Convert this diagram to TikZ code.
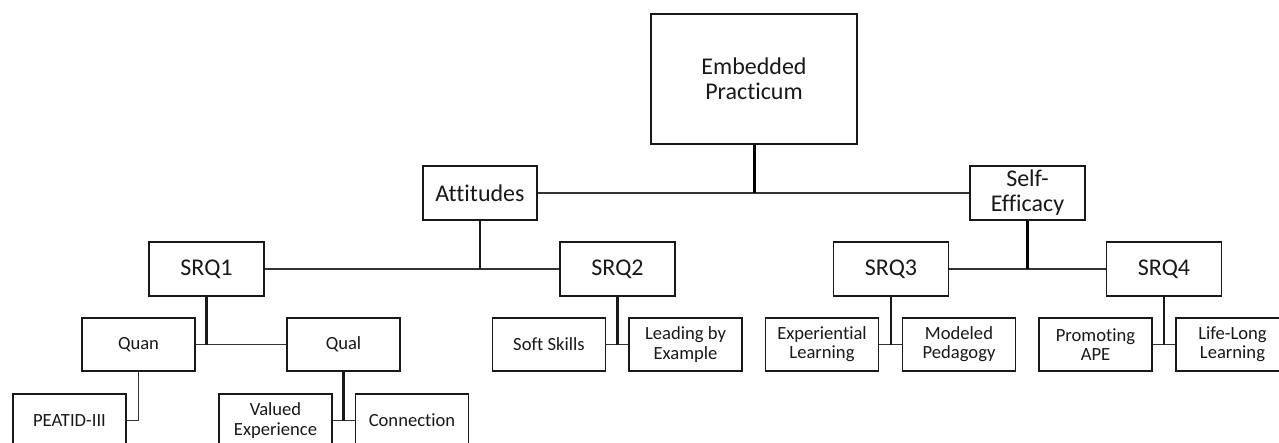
\documentclass[tikz,border=0pt]{standalone}
\usepackage{fontspec}
\setmainfont{Carlito}[Ligatures=NoCommon]
\begin{document}
\begin{tikzpicture}[x=0.5pt,y=-0.5pt,
  box/.style={draw=black!90, line width=0.9pt, inner sep=0pt, align=center, text=black!90},
  big/.style={box, font=\fontsize{12}{12.4}\selectfont},
  small/.style={box, font=\fontsize{9.3}{9.6}\selectfont, minimum width=56.5pt, minimum height=26.5pt},
  srq/.style={big, minimum width=57.5pt, minimum height=27pt},
  link/.style={draw=black!80, line width=0.9pt},
  stem/.style={draw=black!90, line width=1.1pt},
  mainstem/.style={draw=black, line width=1.5pt}]
\clip (0,0) rectangle (1279,443);
\fill[white] (0,0) rectangle (1279,443);

% top
\node[big, minimum width=103pt, minimum height=65pt] (emb) at (754,79) {Embedded\\Practicum};
\node[big, minimum width=57pt, minimum height=27pt] (att) at (480,193) {Attitudes};
\node[big, minimum width=57.5pt, minimum height=27pt] (se) at (1027.5,193) {Self-\\Efficacy};

% second row
\node[srq] (s1) at (206.5,269) {SRQ1};
\node[srq] (s2) at (617.5,269) {SRQ2};
\node[srq] (s3) at (891,269) {SRQ3};
\node[srq] (s4) at (1164,269) {SRQ4};

% third row
\node[small] (quan) at (138.5,344.5) {Quan};
\node[small] (qual) at (343.5,344.5) {Qual};
\node[small] (soft) at (549,344.5) {Soft Skills};
\node[small] (lead) at (685.5,344.5) {Leading by\\Example};
\node[small] (exp) at (822,344.5) {Experiential\\Learning};
\node[small] (mod) at (959,344.5) {Modeled\\Pedagogy};
\node[small] (prom) at (1095.5,344.5) {Promoting\\APE};
\node[small] (life) at (1232.5,344.5) {Life-Long\\Learning};

% fourth row
\node[small] (pea) at (69.5,420.5) {PEATID-III};
\node[small] (val) at (275.5,420.5) {Valued\\Experience};
\node[small] (con) at (412,420.5) {Connection};

% connectors
\coordinate (j0) at (emb.south |- att.east);
\draw[link] (att.east) -- (se.west);
\draw[mainstem] (emb.south) -- (j0);

\coordinate (j1) at (att.south |- s1.east);
\draw[link] (s1.east) -- (s2.west);
\draw[stem] (att.south) -- (j1);

\coordinate (j2) at (se.south |- s3.east);
\draw[link] (s3.east) -- (s4.west);
\draw[mainstem] (se.south) -- (j2);

\coordinate (j3) at (s1.south |- quan.east);
\draw[link] (quan.east) -- (qual.west);
\draw[stem] (s1.south) -- (j3);

\coordinate (j4) at (s2.south |- soft.east);
\draw[link] (soft.east) -- (lead.west);
\draw[stem] (s2.south) -- (j4);

\coordinate (j5) at (s3.south |- exp.east);
\draw[link] (exp.east) -- (mod.west);
\draw[stem] (s3.south) -- (j5);

\coordinate (j6) at (s4.south |- prom.east);
\draw[link] (prom.east) -- (life.west);
\draw[stem] (s4.south) -- (j6);

\draw[link] (quan.south) |- (pea.east);

\coordinate (j7) at (qual.south |- val.east);
\draw[link] (val.east) -- (con.west);
\draw[stem] (qual.south) -- (j7);
\end{tikzpicture}
\end{document}
